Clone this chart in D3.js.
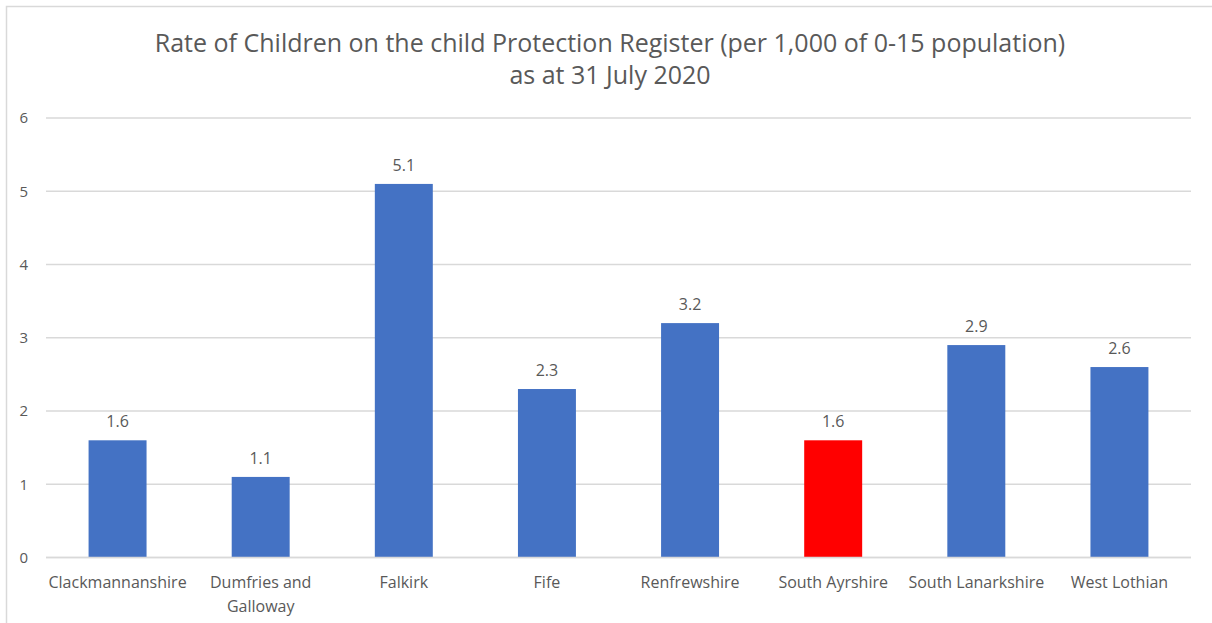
<!DOCTYPE html>
<html>
<head>
<meta charset="utf-8">
<script src="https://cdn.jsdelivr.net/npm/d3@7"></script>
<style>
  html, body { margin: 0; padding: 0; background: #fff; }
  svg { display: block; }
  text { font-family: "Open Sans", "Noto Sans", sans-serif; fill: #595959; }
</style>
</head>
<body>
<svg id="chart" width="1212" height="623"></svg>
<script>
const categories = ["Clackmannanshire", "Dumfries and Galloway", "Falkirk", "Fife",
  "Renfrewshire", "South Ayrshire", "South Lanarkshire", "West Lothian"];
const rates = [1.6, 1.1, 5.1, 2.3, 3.2, 1.6, 2.9, 2.6];
const highlighted = ["South Ayrshire"];
const yTicks = [0, 1, 2, 3, 4, 5, 6];
const titleLines = ["Rate of Children on the child Protection Register (per 1,000 of 0-15 population)",
  "as at 31 July 2020"];

const svg = d3.select("#chart");
const W = 1212, H = 623;
const margin = { left: 46, right: 21, top: 118, bottom: 65.5 };

// chart frame
svg.append("rect")
  .attr("x", 6.5).attr("y", 6.5)
  .attr("width", W + 10).attr("height", H + 10)
  .attr("fill", "#fff").attr("stroke", "#d9d9d9").attr("stroke-width", 1.5);

const x = d3.scaleBand()
  .domain(categories)
  .range([margin.left, W - margin.right])
  .paddingInner(0.595)
  .paddingOuter(0.2975);

const y = d3.scaleLinear()
  .domain([0, 6])
  .range([H - margin.bottom, margin.top]);

// gridlines
svg.append("g")
  .selectAll("line")
  .data(yTicks)
  .join("line")
  .attr("x1", margin.left).attr("x2", W - margin.right)
  .attr("y1", d => y(d)).attr("y2", d => y(d))
  .attr("stroke", "#d9d9d9").attr("stroke-width", 1.5);

// y axis labels
const yAxis = d3.axisLeft(y).tickValues(yTicks).tickSize(0).tickPadding(0).tickFormat(d3.format("d"));
const yg = svg.append("g")
  .attr("transform", `translate(${margin.left - 18},0)`)
  .call(yAxis);
yg.select(".domain").remove();
yg.selectAll("text")
  .style("font-family", "'Open Sans', 'Noto Sans', sans-serif")
  .style("font-size", "15px").attr("fill", "#595959");

// bars
svg.append("g")
  .selectAll("rect")
  .data(categories)
  .join("rect")
  .attr("x", d => x(d))
  .attr("width", x.bandwidth())
  .attr("y", (d, i) => y(rates[i]))
  .attr("height", (d, i) => y(0) - y(rates[i]))
  .attr("fill", d => highlighted.includes(d) ? "#ff0000" : "#4472c4");

// baseline over bars
svg.append("line")
  .attr("x1", margin.left).attr("x2", W - margin.right)
  .attr("y1", y(0)).attr("y2", y(0))
  .attr("stroke", "#d9d9d9").attr("stroke-width", 1.5);

// value labels
svg.append("g")
  .selectAll("text")
  .data(categories)
  .join("text")
  .attr("x", d => x(d) + x.bandwidth() / 2)
  .attr("y", (d, i) => y(rates[i]) - 13)
  .attr("text-anchor", "middle")
  .style("font-size", "16px")
  .text((d, i) => rates[i].toFixed(1));

// category labels, wrapped to the band
const wrapWidth = x.step() - 4;
const catG = svg.append("g");
categories.forEach(c => {
  const cx = x(c) + x.bandwidth() / 2;
  const t = catG.append("text")
    .attr("x", cx)
    .attr("y", y(0) + 30)
    .attr("text-anchor", "middle")
    .style("font-size", "16px");
  const words = c.split(" ");
  let line = [];
  let tspan = t.append("tspan").attr("x", cx).attr("dy", 0);
  words.forEach(w => {
    line.push(w);
    tspan.text(line.join(" "));
    if (tspan.node().getComputedTextLength() > wrapWidth && line.length > 1) {
      line.pop();
      tspan.text(line.join(" "));
      line = [w];
      tspan = t.append("tspan").attr("x", cx).attr("dy", "1.5em").text(w);
    }
  });
});

// title
svg.append("g")
  .selectAll("text")
  .data(titleLines)
  .join("text")
  .attr("x", 610)
  .attr("y", (d, i) => 52 + i * 32)
  .attr("text-anchor", "middle")
  .style("font-size", "25px")
  .text(d => d);
</script>
</body>
</html>
